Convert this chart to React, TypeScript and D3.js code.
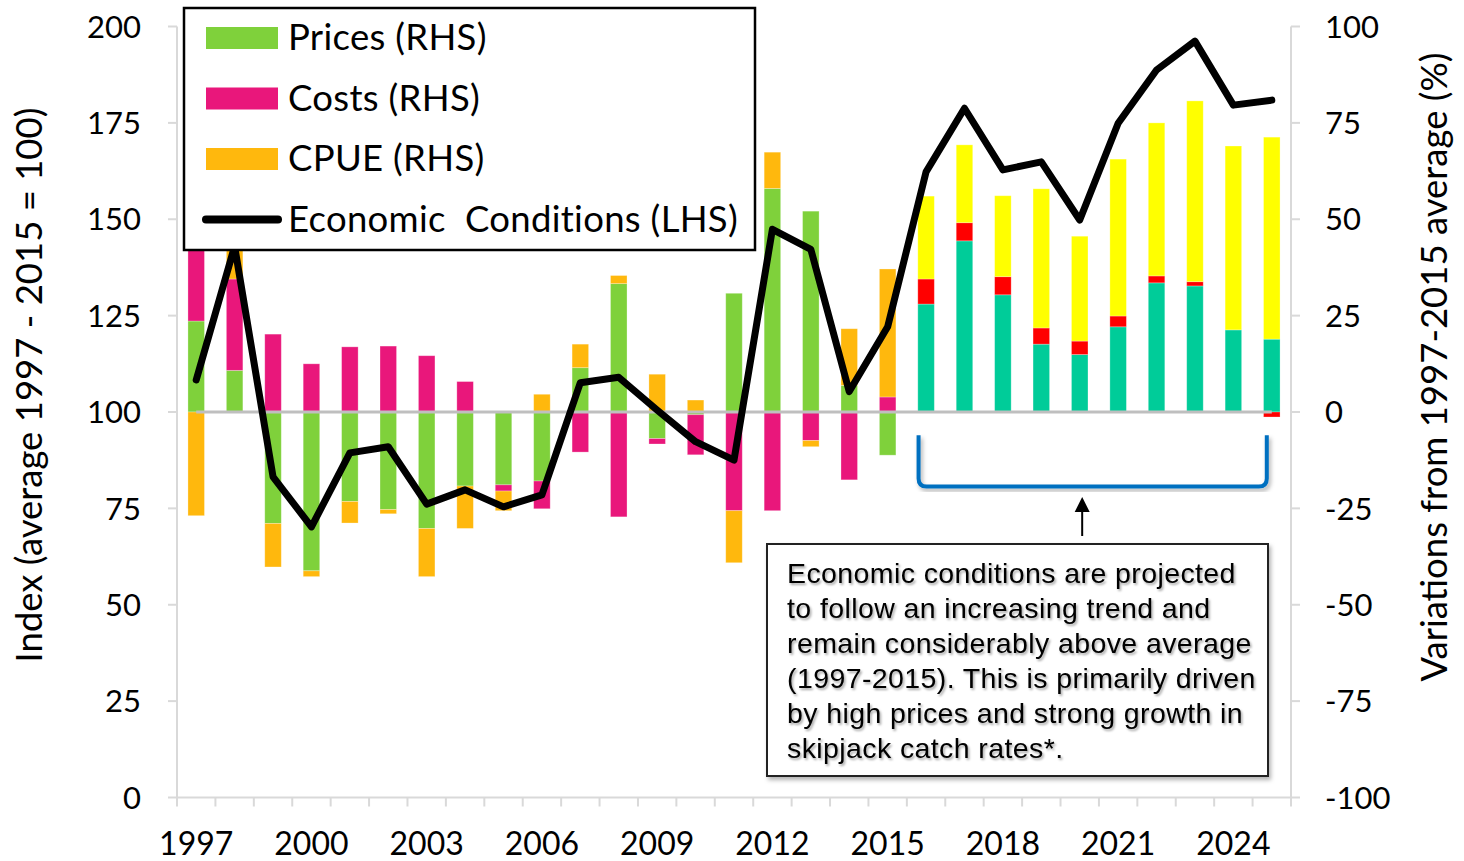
import React from 'react';
import * as d3 from 'd3';

const years = [1997, 1998, 1999, 2000, 2001, 2002, 2003, 2004, 2005, 2006, 2007, 2008, 2009, 2010, 2011, 2012, 2013, 2014, 2015, 2016, 2017, 2018, 2019, 2020, 2021, 2022, 2023, 2024, 2025];
const prices = [23.6, 10.8, -28.9, -41.2, -23.2, -25.3, -30.2, -19.2, -18.9, -17.9, 11.5, 33.3, -6.9, -0.7, 30.8, 58.0, 52.1, 6.9, -11.2, 28.0, 44.4, 30.4, 17.6, 14.9, 22.1, 33.5, 32.7, 21.3, 18.9];
const costs = [20, 23.7, 20.2, 12.5, 16.9, 17.1, 14.6, 7.9, -1.6, -7.2, -10.4, -27.2, -1.4, -10.4, -25.6, -25.6, -7.4, -17.6, 3.9, 6.5, 4.7, 4.7, 4.2, 3.5, 2.8, 1.8, 1.1, 0, -1.3];
const cpue = [-26.9, 9, -11.3, -1.5, -5.6, -1.1, -12.5, -11.0, -5.1, 4.6, 6.1, 2.1, 9.8, 3.1, -13.5, 9.4, -1.6, 14.7, 33.2, 21.5, 20.2, 21.0, 36.1, 27.2, 40.7, 39.7, 46.9, 47.7, 52.4];
const econ = [108.3, 143, 83.2, 70.2, 89.4, 91.0, 76.1, 79.8, 75.4, 78.5, 107.6, 109.0, 100.5, 92.3, 87.5, 147.4, 142.2, 105.3, 122.1, 162.3, 178.8, 162.8, 164.9, 149.8, 174.9, 188.7, 196.2, 179.6, 180.9];

const leftTicks = [0, 25, 50, 75, 100, 125, 150, 175, 200];
const rightTicks = [-100, -75, -50, -25, 0, 25, 50, 75, 100];
const yearLabels = [1997, 2000, 2003, 2006, 2009, 2012, 2015, 2018, 2021, 2024];
const projectionStart = 2016;

const seriesKeys = ['prices', 'costs', 'cpue'];
const histColors: Record<string, string> = { prices: '#7FD13B', costs: '#E9177B', cpue: '#FFB80D' };
const projColors: Record<string, string> = { prices: '#00CC99', costs: '#FF0000', cpue: '#FFFF00' };

const legendItems = [
  { label: 'Prices (RHS)', color: '#7FD13B', type: 'bar' },
  { label: 'Costs (RHS)', color: '#E9177B', type: 'bar' },
  { label: 'CPUE (RHS)', color: '#FFB80D', type: 'bar' },
  { label: 'Economic\u00A0 Conditions (LHS)', color: '#000000', type: 'line' },
];

const annotationLines = [
  'Economic conditions are projected',
  'to follow an increasing trend and',
  'remain considerably above average',
  '(1997-2015). This is primarily driven',
  'by high prices and strong growth in',
  'skipjack catch rates*.',
];

const FONT = 'Lato, "Open Sans", sans-serif';

export default function App() {
  const W = 1464, H = 861;
  const x0 = 177, x1 = 1291, yTop = 26.5, yBot = 797.5;

  const x = d3.scaleBand<number>().domain(years).range([x0, x1]).paddingInner(0.57).paddingOuter(0.285);
  const step = x.step();
  const cx = (yr: number) => (x(yr) as number) + x.bandwidth() / 2;
  const yL = d3.scaleLinear().domain([0, 200]).range([yBot, yTop]);
  const yR = d3.scaleLinear().domain([-100, 100]).range([yBot, yTop]);

  const rows = years.map((yr, i) => ({ year: yr, prices: prices[i], costs: costs[i], cpue: cpue[i] }));
  const stacked = d3.stack<any>().keys(seriesKeys).offset(d3.stackOffsetDiverging)(rows);

  const econLine = d3.line<number>().x((_, i) => cx(years[i])).y((d) => yL(d))(econ) as string;
  const zeroLine = d3.line<number>().x((yr) => cx(yr)).y(() => yR(0))(years) as string;

  const bandEdges = d3.range(years.length + 1).map((i) => x0 + i * step);

  // bracket anchors
  const bL = cx(projectionStart) - 7.5;
  const bR = cx(years[years.length - 1]) - 5;
  const bTop = yR(-6);
  const bBot = yR(-19.3);
  const arrowX = (bL + bR) / 2 - 10.5;

  return (
    <svg width={W} height={H} style={{ position: 'absolute', left: 0, top: 0, background: '#fff' }}>
      <defs>
        <filter id="txtShadow" x="-5%" y="-20%" width="110%" height="150%">
          <feDropShadow dx="1.5" dy="2" stdDeviation="1.2" floodColor="#000" floodOpacity="0.35" />
        </filter>
        <filter id="boxShadow" x="-5%" y="-5%" width="115%" height="115%">
          <feDropShadow dx="2" dy="3" stdDeviation="2" floodColor="#000" floodOpacity="0.3" />
        </filter>
      </defs>

      {/* axes */}
      <g stroke="#D9D9D9" strokeWidth={2}>
        <line x1={x0} x2={x0} y1={yTop} y2={yBot} />
        <line x1={x1} x2={x1} y1={yTop} y2={yBot} />
        <line x1={x0} x2={x1} y1={yBot} y2={yBot} />
        {leftTicks.map((t) => (
          <line key={'lt' + t} x1={x0 - 9} x2={x0} y1={yL(t)} y2={yL(t)} />
        ))}
        {rightTicks.map((t) => (
          <line key={'rt' + t} x1={x1} x2={x1 + 9} y1={yR(t)} y2={yR(t)} />
        ))}
        {bandEdges.map((e, i) => (
          <line key={'bt' + i} x1={e} x2={e} y1={yBot} y2={yBot + 9} />
        ))}
      </g>

      {/* tick labels */}
      <g fontFamily={FONT} fontSize={31} fill="#000">
        {leftTicks.map((t) => (
          <text key={'ll' + t} x={141} y={yL(t)} dy="0.36em" textAnchor="end">{t}</text>
        ))}
        {rightTicks.map((t) => (
          <text key={'rl' + t} x={1325} y={yR(t)} dy="0.36em" textAnchor="start">{t}</text>
        ))}
        {yearLabels.map((yr) => (
          <text key={'yl' + yr} x={cx(yr)} y={855} textAnchor="middle" fontSize={32}>{yr}</text>
        ))}
      </g>

      {/* axis titles */}
      <text fontFamily={FONT} fontSize={36.5} textAnchor="middle" transform={`translate(42,385) rotate(-90)`}>
        Index (average 1997 - 2015 = 100)
      </text>
      <text fontFamily={FONT} fontSize={36.5} textAnchor="middle" transform={`translate(1447,367) rotate(-90)`}>
        Variations from 1997-2015 average (%)
      </text>

      {/* bars */}
      {stacked.map((s) => (
        <g key={s.key}>
          {s.map((d: any, i: number) => {
            const yr = years[i];
            const col = yr >= projectionStart ? projColors[s.key] : histColors[s.key];
            const ya = yR(d[0]);
            const yb = yR(d[1]);
            const h = Math.abs(ya - yb);
            if (h < 0.01) return null;
            return (
              <rect key={yr} x={x(yr)} y={Math.min(ya, yb)} width={x.bandwidth()} height={h}
                fill={col} stroke="#fff" strokeOpacity={0.35} strokeWidth={0.8} />
            );
          })}
        </g>
      ))}

      {/* zero line */}
      <path d={zeroLine} stroke="#BFBFBF" strokeWidth={3} fill="none" />

      {/* economic conditions line */}
      <path d={econLine} stroke="#000" strokeWidth={7} fill="none" strokeLinejoin="round" strokeLinecap="round" />

      {/* legend */}
      <g>
        <rect x={184} y={8} width={571} height={242} fill="#fff" stroke="#000" strokeWidth={2.5} />
        {legendItems.map((it, i) => {
          const cy = 38 + i * 60.5;
          return (
            <g key={it.label}>
              {it.type === 'bar' ? (
                <rect x={206} y={cy - 11} width={72} height={22} fill={it.color} />
              ) : (
                <line x1={206} x2={278} y1={cy} y2={cy} stroke={it.color} strokeWidth={8} strokeLinecap="round" />
              )}
              <text x={288} y={cy + 12} fontFamily={FONT} fontSize={36.5} letterSpacing={0.3} fill="#000">{it.label}</text>
            </g>
          );
        })}
      </g>

      {/* bracket */}
      <path
        d={`M${bL},${bTop} L${bL},${bBot - 8} Q${bL},${bBot} ${bL + 8},${bBot} L${bR - 8},${bBot} Q${bR},${bBot} ${bR},${bBot - 8} L${bR},${bTop}`}
        stroke="#0070C0" strokeWidth={4} fill="none" filter="url(#boxShadow)"
      />

      {/* arrow */}
      <line x1={arrowX} x2={arrowX} y1={536} y2={510} stroke="#000" strokeWidth={2} />
      <path d={`M${arrowX},497 L${arrowX - 7.5},512 L${arrowX + 7.5},512 Z`} fill="#000" />

      {/* annotation box */}
      <rect x={767} y={544} width={501} height={232} fill="#fff" stroke="#222" strokeWidth={2} filter="url(#boxShadow)" />
      <g fontFamily='"Liberation Sans", Arial, sans-serif' fontSize={28.5} letterSpacing={0.4} fill="#000" filter="url(#txtShadow)">
        {annotationLines.map((l, i) => (
          <text key={i} x={787} y={583 + i * 35}>{l}</text>
        ))}
      </g>
    </svg>
  );
}
